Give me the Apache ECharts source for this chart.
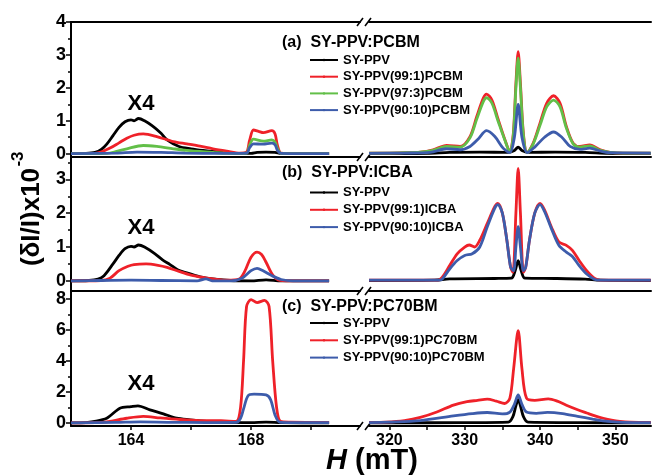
<!DOCTYPE html>
<html lang="en">
<head>
<meta charset="UTF-8">
<title>SY-PPV magneto-PL</title>
<script src="https://cdn.jsdelivr.net/npm/echarts@6/dist/echarts.min.js"></script>
<style>
  html, body { margin: 0; padding: 0; background: #fff; }
  #chart { width: 652px; height: 476px; }
</style>
</head>
<body>
<div id="chart"></div>
<script>
// H (mT) vs (dI/I)x10^-3, left part is x4
// ---- panel (a) PCBM ----
const aBlackL = [[162,0],[162.5,0.01],[162.8,0.04],[163.0,0.12],[163.2,0.3],[163.4,0.55],[163.6,0.8],[163.8,0.97],[164.0,1.03],[164.1,1.0],[164.25,1.07],[164.45,1.0],[164.7,0.85],[165.0,0.62],[165.2,0.42],[165.6,0.22],[166.0,0.15],[166.4,0.1],[166.8,0.06],[167.2,0.03],[167.6,0.01],[168.0,0.01],[168.2,0.04],[168.5,0.05],[168.8,0.04],[169.0,0.01],[169.6,0],[170.6,0]];
const aRedL = [[162,0],[162.8,0.01],[163.0,0.05],[163.3,0.17],[163.6,0.33],[163.86,0.47],[164.1,0.56],[164.41,0.6],[164.86,0.52],[165.41,0.37],[165.86,0.3],[166.3,0.23],[166.73,0.15],[167.19,0.08],[167.63,0.02],[167.85,0.05],[167.95,0.4],[168.08,0.72],[168.25,0.68],[168.41,0.64],[168.69,0.7],[168.8,0.6],[168.88,0.25],[169.0,0.02],[169.6,0],[170.6,0]];
const aGreenL = [[162,0],[163.2,0.01],[163.52,0.07],[163.86,0.15],[164.41,0.25],[164.86,0.22],[165.41,0.15],[165.86,0.1],[166.73,0.04],[167.2,0.01],[167.85,0.02],[167.95,0.25],[168.08,0.44],[168.41,0.38],[168.69,0.42],[168.8,0.35],[168.88,0.15],[169.0,0.01],[170.6,0]];
const aBlueL = [[162,0],[163.5,0.02],[164.2,0.05],[165.0,0.04],[165.8,0.02],[167.0,0.01],[167.85,0.02],[167.95,0.18],[168.08,0.3],[168.4,0.29],[168.69,0.32],[168.8,0.27],[168.88,0.1],[169.0,0.01],[170.6,0]];
const aBlackR = [[317.3,0],[325,0.01],[328,0.04],[332,0.05],[335.8,0.04],[336.6,0.1],[337.1,0.2],[337.6,0.1],[338.4,0.04],[342,0.05],[346,0.04],[349,0.01],[354.7,0]];
const aRedR = [[317.3,0.02],[320,0.02],[322,0.03],[324.1,0.05],[325.8,0.12],[327.6,0.25],[329.4,0.22],[330.7,0.52],[331.6,1.13],[332.47,1.69],[332.9,1.81],[333.6,1.64],[334.46,1.03],[335.35,0.42],[336.0,0.05],[336.45,0.6],[336.8,2.14],[337.1,3.1],[337.4,2.14],[337.8,0.6],[338.3,0.03],[339.1,0.32],[340.0,0.93],[340.9,1.54],[341.8,1.76],[342.65,1.54],[343.5,0.83],[344.4,0.32],[345.3,0.22],[346.6,0.27],[348.0,0.12],[349.3,0.04],[351,0.02],[354.7,0.02]];
const aGreenR = [[317.3,0.02],[320,0.02],[322,0.03],[324.1,0.05],[325.8,0.1],[327.6,0.22],[329.4,0.2],[330.7,0.48],[331.6,1.05],[332.47,1.58],[332.9,1.7],[333.6,1.54],[334.46,0.97],[335.35,0.4],[336.0,0.05],[336.45,0.55],[336.8,2.0],[337.1,2.9],[337.4,2.0],[337.8,0.55],[338.3,0.03],[339.1,0.3],[340.0,0.86],[340.9,1.43],[341.8,1.63],[342.65,1.43],[343.5,0.78],[344.4,0.3],[345.3,0.2],[346.6,0.24],[348.0,0.1],[349.3,0.04],[351,0.02],[354.7,0.02]];
const aBlueR = [[317.3,0.01],[322,0.02],[325.4,0.04],[327.6,0.15],[329.4,0.12],[330.7,0.22],[331.8,0.45],[332.9,0.7],[334.0,0.52],[335.1,0.17],[336.0,0.03],[336.6,0.5],[337.1,1.5],[337.6,0.5],[338.3,0.03],[339.3,0.2],[340.6,0.5],[341.8,0.66],[342.9,0.5],[344.0,0.22],[345.3,0.13],[346.6,0.17],[348.0,0.08],[349.3,0.03],[354.7,0.02]];

// ---- panel (b) ICBA ----
const bBlackL = [[162,0],[162.6,0.01],[162.9,0.05],[163.1,0.15],[163.4,0.5],[163.6,0.75],[163.8,0.95],[164.0,1.02],[164.1,1.0],[164.25,1.06],[164.45,1.0],[164.8,0.8],[165.05,0.62],[165.3,0.48],[165.55,0.33],[165.8,0.25],[166.3,0.12],[166.8,0.05],[167.3,0.01],[168.0,0],[168.5,0.03],[169.0,0],[170.6,0]];
const bRedL = [[162,0],[163.0,0.01],[163.3,0.08],[163.6,0.3],[163.9,0.43],[164.1,0.48],[164.5,0.5],[164.9,0.46],[165.2,0.4],[165.6,0.28],[166.0,0.17],[166.4,0.1],[166.8,0.05],[167.2,0.02],[167.6,0.05],[167.8,0.3],[168.0,0.7],[168.2,0.85],[168.35,0.78],[168.5,0.55],[168.7,0.2],[168.9,0.03],[169.3,0],[170.6,0]];
const bBlueL = [[162,0],[163,0.01],[164,0.02],[165,0.01],[166.2,0],[166.5,0.06],[166.7,0],[167.3,0],[167.7,0.08],[168.0,0.3],[168.2,0.37],[168.4,0.3],[168.7,0.15],[169.0,0.04],[169.4,0],[170.6,0]];
const bBlackR = [[317.3,0.01],[326,0.02],[328,0.06],[334,0.07],[336.2,0.08],[336.7,0.3],[337.1,0.6],[337.5,0.3],[338.0,0.08],[342,0.07],[346,0.05],[348,0.02],[354.7,0.01]];
const bRedR = [[317.3,0.02],[326.5,0.02],[327,0.1],[328,0.45],[329,0.8],[330,1.0],[330.6,1.06],[331.3,1.0],[332,1.2],[333,1.7],[334,2.2],[334.4,2.29],[335,2.0],[335.6,1.2],[336.1,0.4],[336.4,0.25],[336.8,2.0],[337.1,3.32],[337.4,2.0],[337.8,0.25],[338.1,0.4],[338.6,1.2],[339.3,2.0],[340,2.29],[340.6,2.1],[341.5,1.6],[342.5,1.15],[343.5,1.05],[344.3,0.9],[345.2,0.6],[346.2,0.3],[347.2,0.08],[348,0.02],[354.7,0.02]];
const bBlueR = [[317.3,0.02],[326.5,0.02],[327,0.05],[328,0.35],[329,0.6],[330,0.75],[331,0.8],[332,1.0],[333,1.6],[334,2.15],[334.4,2.25],[335,2.0],[335.6,1.2],[336.1,0.4],[336.5,0.3],[336.8,1.0],[337.1,1.6],[337.4,1.0],[337.8,0.3],[338.1,0.4],[338.6,1.2],[339.3,2.0],[340,2.25],[340.6,2.05],[341.5,1.55],[342.5,1.05],[343.5,0.85],[344.3,0.72],[345.2,0.45],[346.2,0.2],[347.2,0.05],[348,0.02],[354.7,0.02]];

// ---- panel (c) PC70BM ----
const cBlackL = [[162,0],[162.5,0.02],[162.74,0.08],[163.19,0.3],[163.63,0.95],[164.0,1.05],[164.23,1.1],[164.63,0.84],[165.08,0.58],[165.52,0.3],[165.97,0.2],[166.52,0.1],[167.19,0.03],[168.0,0.02],[168.5,0.05],[169.0,0.02],[170.6,0]];
const cRedL = [[162,0],[163.0,0.03],[163.3,0.1],[163.86,0.3],[164.41,0.42],[164.97,0.32],[165.63,0.22],[166.3,0.15],[167.0,0.14],[167.5,0.1],[167.65,1.0],[167.75,4.0],[167.85,7.5],[168.0,7.95],[168.2,7.75],[168.45,7.9],[168.6,7.5],[168.72,4.0],[168.85,1.0],[168.98,0.1],[169.3,0.05],[170.6,0.03]];
const cBlueL = [[162,0],[163.5,0.03],[164.3,0.06],[165.2,0.04],[166.5,0.02],[167.5,0.03],[167.65,0.3],[167.75,0.9],[167.9,1.75],[168.1,1.85],[168.5,1.8],[168.65,1.5],[168.8,0.5],[168.95,0.05],[169.3,0.02],[170.6,0.02]];
const cBlackR = [[317.3,0],[330,0.02],[335.8,0.05],[336.4,0.4],[336.8,1.1],[337.1,1.5],[337.4,1.1],[337.8,0.4],[338.4,0.05],[345,0.02],[354.7,0]];
const cRedR = [[317.3,0.03],[319.6,0.05],[322,0.15],[324.1,0.35],[326.3,0.7],[328.5,1.15],[330.3,1.37],[331.7,1.45],[333,1.53],[334.2,1.4],[335.3,1.25],[336.0,1.6],[336.5,3.5],[337.1,5.95],[337.6,3.5],[338.2,1.6],[339.3,1.45],[341.1,1.55],[342.3,1.4],[343.5,1.14],[345,0.85],[346.2,0.64],[347.3,0.45],[348.4,0.3],[349.5,0.18],[350.6,0.1],[352,0.05],[354.7,0.03]];
const cBlueR = [[317.3,0.02],[320,0.05],[324.1,0.15],[328.5,0.45],[331,0.6],[333,0.67],[335,0.58],[336.0,0.7],[336.6,1.2],[337.1,1.8],[337.6,1.2],[338.2,0.7],[339.5,0.62],[341,0.68],[343,0.6],[345,0.42],[347,0.25],[349,0.1],[351,0.04],[354.7,0.02]];

const xTicksL = [164, 166, 168, 170];
const xLabelsL = [164, 168];
const xTicksR = [320, 325, 330, 335, 340, 345, 350];
const xLabelsR = [320, 330, 340, 350];

const FONT = 'Liberation Sans, Arial, sans-serif';
const C = { black: '#000000', red: '#ef2129', green: '#62bf48', blue: '#3d5cab' };

const panels = [
  { top: 22, height: 135, ymin: -0.1, ymax: 4, major: [0, 1, 2, 3, 4], minor: [0.5, 1.5, 2.5, 3.5], title: '(a)  SY-PPV:PCBM', x4: 104,
    names: ['SY-PPV', 'SY-PPV(99:1)PCBM', 'SY-PPV(97:3)PCBM', 'SY-PPV(90:10)PCBM'],
    colors: [C.black, C.red, C.green, C.blue],
    left: [aBlackL, aRedL, aGreenL, aBlueL], right: [aBlackR, aRedR, aGreenR, aBlueR], legendTop: 53.5, gap: 3.7 },
  { top: 157, height: 134, ymin: -0.3, ymax: 3.66, major: [0, 1, 2, 3], minor: [0.5, 1.5, 2.5, 3.5], title: '(b)  SY-PPV:ICBA', x4: 228,
    names: ['SY-PPV', 'SY-PPV(99:1)ICBA', 'SY-PPV(90:10)ICBA'],
    colors: [C.black, C.red, C.blue],
    left: [bBlackL, bRedL, bBlueL], right: [bBlackR, bRedR, bBlueR], legendTop: 186, gap: 4.3 },
  { top: 291, height: 135, ymin: -0.2, ymax: 8.5, major: [0, 2, 4, 6, 8], minor: [1, 3, 5, 7], title: '(c)  SY-PPV:PC70BM', x4: 384,
    names: ['SY-PPV', 'SY-PPV(99:1)PC70BM', 'SY-PPV(90:10)PC70BM'],
    colors: [C.black, C.red, C.blue],
    left: [cBlackL, cRedL, cBlueL], right: [cBlackR, cRedR, cBlueR], legendTop: 316.5, gap: 4.3 }
];

const XL = [162, 171.63];
const XR = [317.29, 354.74];
const axisLine = { show: true, onZero: false, lineStyle: { color: '#000', width: 2 } };

let grid = [], xAxis = [], yAxis = [], series = [], legend = [], title = [];

panels.forEach((p, i) => {
  const last = i === panels.length - 1;
  const gL = i * 2, gR = i * 2 + 1;
  grid.push({ left: 71, width: 289, top: p.top, height: p.height });
  grid.push({ left: 369, right: 1, top: p.top, height: p.height });

  [[gL, XL, xTicksL, xLabelsL], [gR, XR, xTicksR, xLabelsR]].forEach(([g, r, tk, lb]) => {
    xAxis[g] = {
      type: 'value', gridIndex: g, min: r[0], max: r[1], axisLine,
      splitLine: { show: false },
      axisTick: { show: last, customValues: tk, length: 4, lineStyle: { width: 1.5, color: '#000' } },
      axisLabel: { show: last, customValues: lb, margin: 7, color: '#000', fontFamily: FONT, fontWeight: 'bold', fontSize: 16 }
    };
    yAxis[g] = {
      type: 'value', gridIndex: g, position: 'left', min: p.ymin, max: p.ymax, show: g === gL,
      axisLine, splitLine: { show: false },
      axisTick: { customValues: p.major, length: 5, lineStyle: { width: 1.5, color: '#000' } },
      axisLabel: { customValues: p.major, margin: 5, color: '#000', fontFamily: FONT, fontWeight: 'bold', fontSize: 18 }
    };
  });

  p.names.forEach((n, k) => {
    [[gL, p.left[k]], [gR, p.right[k]]].forEach(([g, d]) => {
      series.push({
        name: n, type: 'line', xAxisIndex: g, yAxisIndex: g, data: d,
        symbol: 'none', smooth: 0.3, z: 2 + k,
        lineStyle: { color: p.colors[k], width: 2.8 }, itemStyle: { color: p.colors[k] }
      });
    });
  });

  // itemHeight kept tiny so the legend marker circle hides inside the line
  legend.push({
    data: p.names, orient: 'vertical', left: 309, top: p.legendTop, padding: 0,
    itemWidth: 28, itemHeight: 3, itemGap: p.gap, selectedMode: false,
    textStyle: { color: '#000', fontFamily: FONT, fontWeight: 'bold', fontSize: 13 }
  });
  title.push({
    text: p.title, left: 282, top: p.top + (i === 0 ? 13 : 8), padding: 0,
    textStyle: { color: '#000', fontFamily: FONT, fontWeight: 'bold', fontSize: 16 }
  });
});

// top frame line of panel (a)
xAxis.push({ type: 'value', gridIndex: 0, position: 'top', min: XL[0], max: XL[1], axisLine, axisTick: { show: false }, axisLabel: { show: false }, splitLine: { show: false } });
xAxis.push({ type: 'value', gridIndex: 1, position: 'top', min: XR[0], max: XR[1], axisLine, axisTick: { show: false }, axisLabel: { show: false }, splitLine: { show: false } });
// minor y ticks
panels.forEach((p, i) => {
  yAxis.push({
    type: 'value', gridIndex: i * 2, position: 'left', min: p.ymin, max: p.ymax,
    axisLine: { show: false }, splitLine: { show: false }, axisLabel: { show: false },
    axisTick: { customValues: p.minor, length: 3, lineStyle: { width: 1.5, color: '#000' } }
  });
});

// axis break marks + texts
const graphic = [];
[22, 157, 291, 426].forEach(y => {
  [357, 365].forEach(x => {
    graphic.push({ type: 'line', shape: { x1: x, y1: y + 4, x2: x + 6, y2: y - 4 }, style: { stroke: '#000', lineWidth: 1.6 } });
  });
});
panels.forEach(p => {
  graphic.push({ type: 'text', x: 141, y: p.x4, style: { text: 'X4', font: 'bold 22px ' + FONT, fill: '#000', align: 'center', verticalAlign: 'middle' } });
});
graphic.push({ type: 'text', x: 32, y: 217, rotation: Math.PI / 2, style: { text: '(δI/I)x10', font: 'bold 26px ' + FONT, fill: '#000', align: 'center', verticalAlign: 'middle' } });
graphic.push({ type: 'text', x: 18, y: 159, rotation: Math.PI / 2, style: { text: '-3', font: 'bold 17px ' + FONT, fill: '#000', align: 'center', verticalAlign: 'middle' } });
graphic.push({ type: 'text', x: 372, y: 461, style: {
  text: '{i|H} (mT)', font: 'bold 29px ' + FONT, fill: '#000', align: 'center', verticalAlign: 'middle',
  rich: { i: { fontStyle: 'italic', fontWeight: 'bold', fontSize: 29, fontFamily: FONT } }
} });

const chart = echarts.init(document.getElementById('chart'));
chart.setOption({
  animation: false,
  backgroundColor: '#fff',
  title, legend, grid, xAxis, yAxis, series, graphic
});
</script>
</body>
</html>
